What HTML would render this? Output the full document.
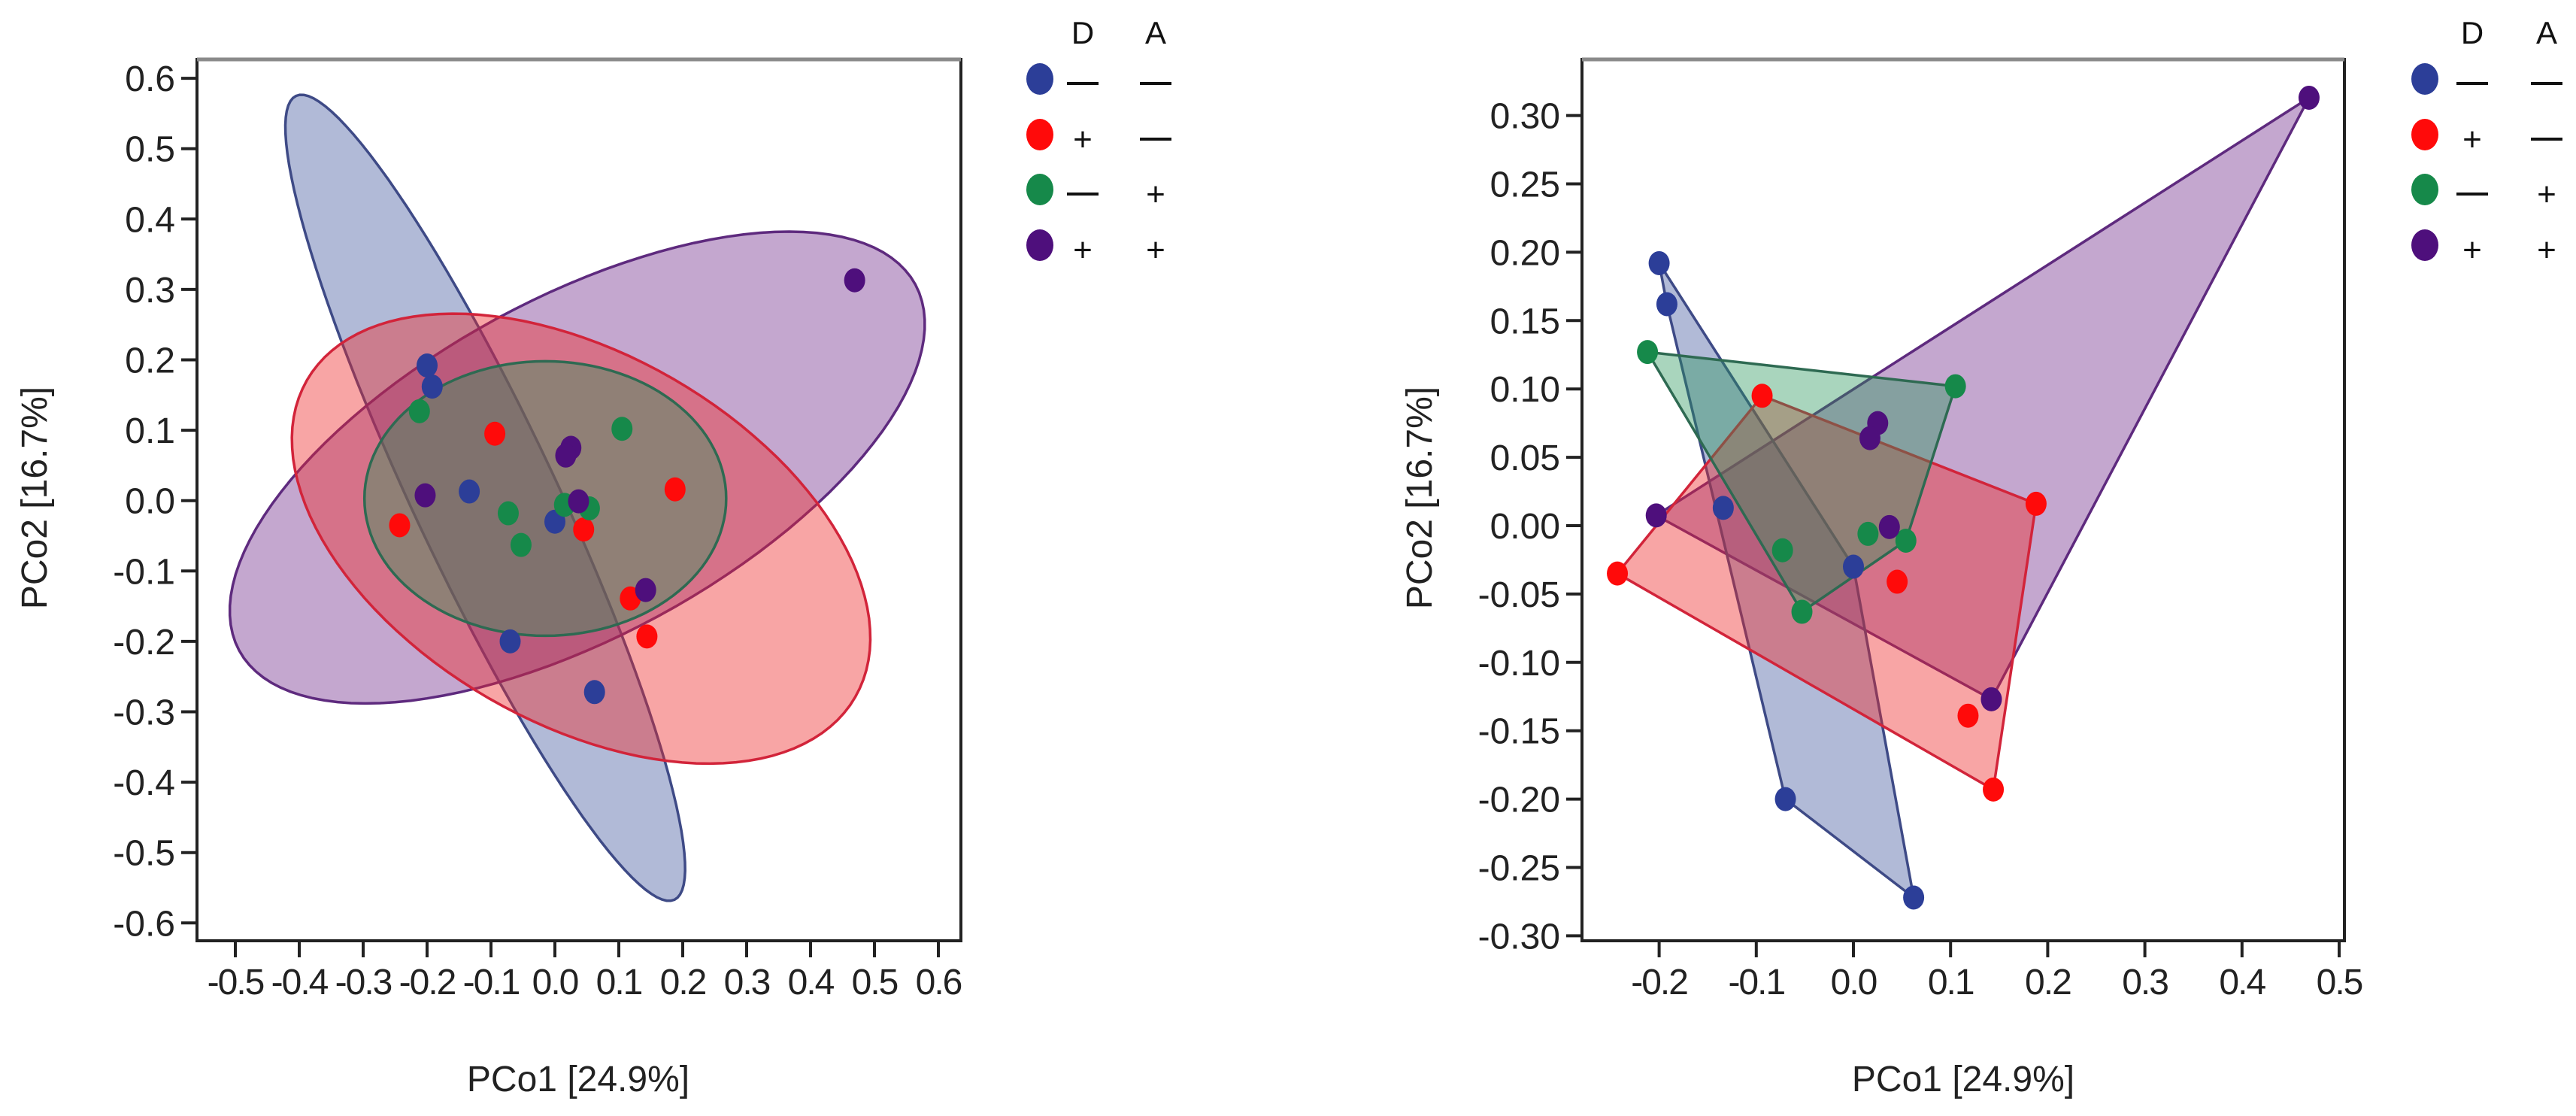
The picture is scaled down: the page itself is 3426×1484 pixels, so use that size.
<!DOCTYPE html>
<html><head><meta charset="utf-8"><style>
html,body{margin:0;padding:0;background:#fff;}
svg{display:block;font-family:"Liberation Sans",sans-serif;}
</style></head><body>
<svg id="fig" width="3426" height="1484" viewBox="0 0 3426 1484" xmlns="http://www.w3.org/2000/svg">
<rect x="0" y="0" width="3426" height="1484" fill="#fff"/>
</svg>
<script>
// ---- data (shared PCoA coordinates) ----
const groups = ["D-A-", "D+A-", "D-A+", "D+A+"];
const legendD = ["—", "+", "—", "+"];
const legendA = ["—", "—", "+", "+"];
const blueX = [-0.200, -0.192, -0.134, 0.000, -0.070, 0.062];
const blueY = [0.192, 0.162, 0.013, -0.030, -0.200, -0.272];
const redX = [-0.094, -0.243, 0.045, 0.188, 0.118, 0.144];
const redY = [0.095, -0.035, -0.041, 0.016, -0.139, -0.193];
const greenX = [-0.212, 0.105, -0.073, -0.053, 0.015, 0.054];
const greenY = [0.127, 0.102, -0.018, -0.063, -0.006, -0.011];
const purpleX = [-0.203, 0.025, 0.017, 0.037, 0.142, 0.469];
const purpleY = [0.0075, 0.075, 0.064, -0.001, -0.127, 0.313];
// confidence ellipses (data units): centre, major semi-axis vector, minor semi-axis vector
const ellCenter = [[-0.109, 0.004], [0.041, -0.054], [-0.015, 0.003], [0.035, 0.047]];
const ellMajor = [[-0.296, 0.571], [0.429, -0.225], [0.283, 0.0], [0.529, 0.260]];
const ellMinor = [[0.101, 0.043], [0.144, 0.227], [0.0, 0.195], [-0.126, 0.2115]];
const leftXTicks = [-0.5,-0.4,-0.3,-0.2,-0.1,0.0,0.1,0.2,0.3,0.4,0.5,0.6];
const leftYTicks = [0.6,0.5,0.4,0.3,0.2,0.1,0.0,-0.1,-0.2,-0.3,-0.4,-0.5,-0.6];
const rightXTicks = [-0.2,-0.1,0.0,0.1,0.2,0.3,0.4,0.5];
const rightYTicks = [0.30,0.25,0.20,0.15,0.10,0.05,0.00,-0.05,-0.10,-0.15,-0.20,-0.25,-0.30];

const NS = "http://www.w3.org/2000/svg";
const svg = document.getElementById('fig');
const ptColor = ["#2c3e98", "#ff0a0a", "#16894a", "#4e0f7c"];
const fillColor = ["rgba(70,90,160,0.42)", "rgba(238,40,40,0.42)", "rgba(40,150,90,0.40)", "rgba(115,45,140,0.42)"];
const strokeColor = ["#3e4a86", "#d2243a", "#2e6a52", "#5e2a7e"];
const XS = [blueX, redX, greenX, purpleX];
const YS = [blueY, redY, greenY, purpleY];

function mk(tag, attrs, parent) {
  const e = document.createElementNS(NS, tag);
  for (const k in attrs) e.setAttribute(k, attrs[k]);
  (parent || svg).appendChild(e);
  return e;
}

function hull(pts) {
  const p = pts.slice().sort((a, b) => a[0] - b[0] || a[1] - b[1]);
  const cross = (o, a, b) => (a[0]-o[0])*(b[1]-o[1]) - (a[1]-o[1])*(b[0]-o[0]);
  const lo = [], up = [];
  for (const q of p) { while (lo.length >= 2 && cross(lo[lo.length-2], lo[lo.length-1], q) <= 0) lo.pop(); lo.push(q); }
  for (const q of p.slice().reverse()) { while (up.length >= 2 && cross(up[up.length-2], up[up.length-1], q) <= 0) up.pop(); up.push(q); }
  lo.pop(); up.pop();
  return lo.concat(up);
}

function drawPanel(cfg) {
  const g = mk('g', {});
  
  
  const X = d => cfg.x0 + d * cfg.kx;
  const Y = d => cfg.y0 - d * cfg.ky;
  // frame
  const fr = mk('rect', {x: cfg.left, y: cfg.top, width: cfg.right - cfg.left, height: cfg.bottom - cfg.top, fill: 'none', stroke: '#222', 'stroke-width': 4}, g);
  
  
  const tl = mk('line', {x1: cfg.left, y1: cfg.top, x2: cfg.right, y2: cfg.top, stroke: '#8a8a8a', 'stroke-width': 5}, g);
  
  
  // shapes
  const shapes = mk('g', {}, g);
  
  
  cfg.order.forEach(gi => {
    let d = '';
    if (cfg.kind === 'ellipse') {
      const c = ellCenter[gi], a = ellMajor[gi], b = ellMinor[gi];
      for (let i = 0; i <= 120; i++) {
        const t = i / 120 * 2 * Math.PI;
        const px = X(c[0] + a[0] * Math.cos(t) + b[0] * Math.sin(t));
        const py = Y(c[1] + a[1] * Math.cos(t) + b[1] * Math.sin(t));
        d += (i ? 'L' : 'M') + px.toFixed(1) + ',' + py.toFixed(1);
      }
    } else {
      const pts = XS[gi].map((x, i) => [x, YS[gi][i]]);
      hull(pts).forEach((q, i) => { d += (i ? 'L' : 'M') + X(q[0]).toFixed(1) + ',' + Y(q[1]).toFixed(1); });
    }
    const p = mk('path', {d: d + 'Z', fill: fillColor[gi], stroke: strokeColor[gi], 'stroke-width': 3.5}, shapes);
    
    
  });
  // points
  [0, 1, 2, 3].forEach(gi => {
    XS[gi].forEach((x, i) => {
      const c = mk('ellipse', {cx: X(x), cy: Y(YS[gi][i]), rx: 14, ry: 16, fill: ptColor[gi]}, g);
      
      
    });
  });
  // y ticks
  cfg.yTicks.forEach(v => {
    const ln = mk('line', {x1: cfg.left - 21, x2: cfg.left, y1: Y(v), y2: Y(v), stroke: '#222', 'stroke-width': 4}, g);
    
    
    const t = mk('text', {x: cfg.left - 29, y: Y(v) + 17, 'text-anchor': 'end', 'font-size': 48, fill: '#222'}, g);
    t.textContent = v.toFixed(cfg.yDec);
    
    
  });
  cfg.xTicks.forEach(v => {
    const ln = mk('line', {x1: X(v), x2: X(v), y1: cfg.bottom, y2: cfg.bottom + 22, stroke: '#222', 'stroke-width': 4}, g);
    
    
    const t = mk('text', {x: X(v), y: cfg.bottom + 71, 'text-anchor': 'middle', 'font-size': 48, fill: '#222', 'letter-spacing': -2}, g);
    t.textContent = v.toFixed(1);
    
    
  });
  const xt = mk('text', {x: cfg.xTitleX, y: 1451, 'text-anchor': 'middle', 'font-size': 48, fill: '#222'}, g);
  xt.textContent = 'PCo1 [24.9%]';
  
  
  const yt = mk('text', {x: 0, y: 0, 'text-anchor': 'middle', 'font-size': 48, fill: '#222', transform: 'translate(' + cfg.yTitleX + ',662) rotate(-90)'}, g);
  yt.textContent = 'PCo2 [16.7%]';
  
  
  // legend
  const lg = mk('g', {}, g);
  
  
  const hd = mk('text', {x: cfg.legD, y: 58, 'text-anchor': 'middle', 'font-size': 42, fill: '#111'}, lg);
  hd.textContent = 'D';
  
  
  const ha = mk('text', {x: cfg.legA, y: 58, 'text-anchor': 'middle', 'font-size': 42, fill: '#111'}, lg);
  ha.textContent = 'A';
  
  
  const rows = [105, 179, 252, 326];
  groups.forEach((gname, i) => {
    const e = mk('g', {}, lg);
    
    
    mk('ellipse', {cx: cfg.legDot, cy: rows[i], rx: 18, ry: 21, fill: ptColor[i]}, e);
    [[legendD[i], cfg.legD], [legendA[i], cfg.legA]].forEach(([s, cx]) => {
      if (s === '—') {
        mk('line', {x1: cx - 21, x2: cx + 21, y1: rows[i] + 6, y2: rows[i] + 6, stroke: '#111', 'stroke-width': 4}, e);
      } else {
        const t = mk('text', {x: cx, y: rows[i] + 21, 'text-anchor': 'middle', 'font-size': 44, fill: '#111'}, e);
        t.textContent = '+';
      }
    });
  });
}

drawPanel({name: 'left-pcoa-ellipse-panel', kind: 'ellipse', order: [0, 3, 1, 2],
  left: 262, right: 1278, top: 79, bottom: 1251, x0: 738, kx: 850, y0: 665.7, ky: 936,
  xTicks: leftXTicks, yTicks: leftYTicks, yDec: 1, xTitleX: 769, yTitleX: 62,
  legDot: 1383, legD: 1440, legA: 1537});
drawPanel({name: 'right-pcoa-hull-panel', kind: 'hull', order: [3, 0, 1, 2],
  left: 2104, right: 3118, top: 79, bottom: 1251, x0: 2465, kx: 1292, y0: 699, ky: 1818,
  xTicks: rightXTicks, yTicks: rightYTicks, yDec: 2, xTitleX: 2611, yTitleX: 1904,
  legDot: 3225, legD: 3288, legA: 3387});
</script>
</body></html>
